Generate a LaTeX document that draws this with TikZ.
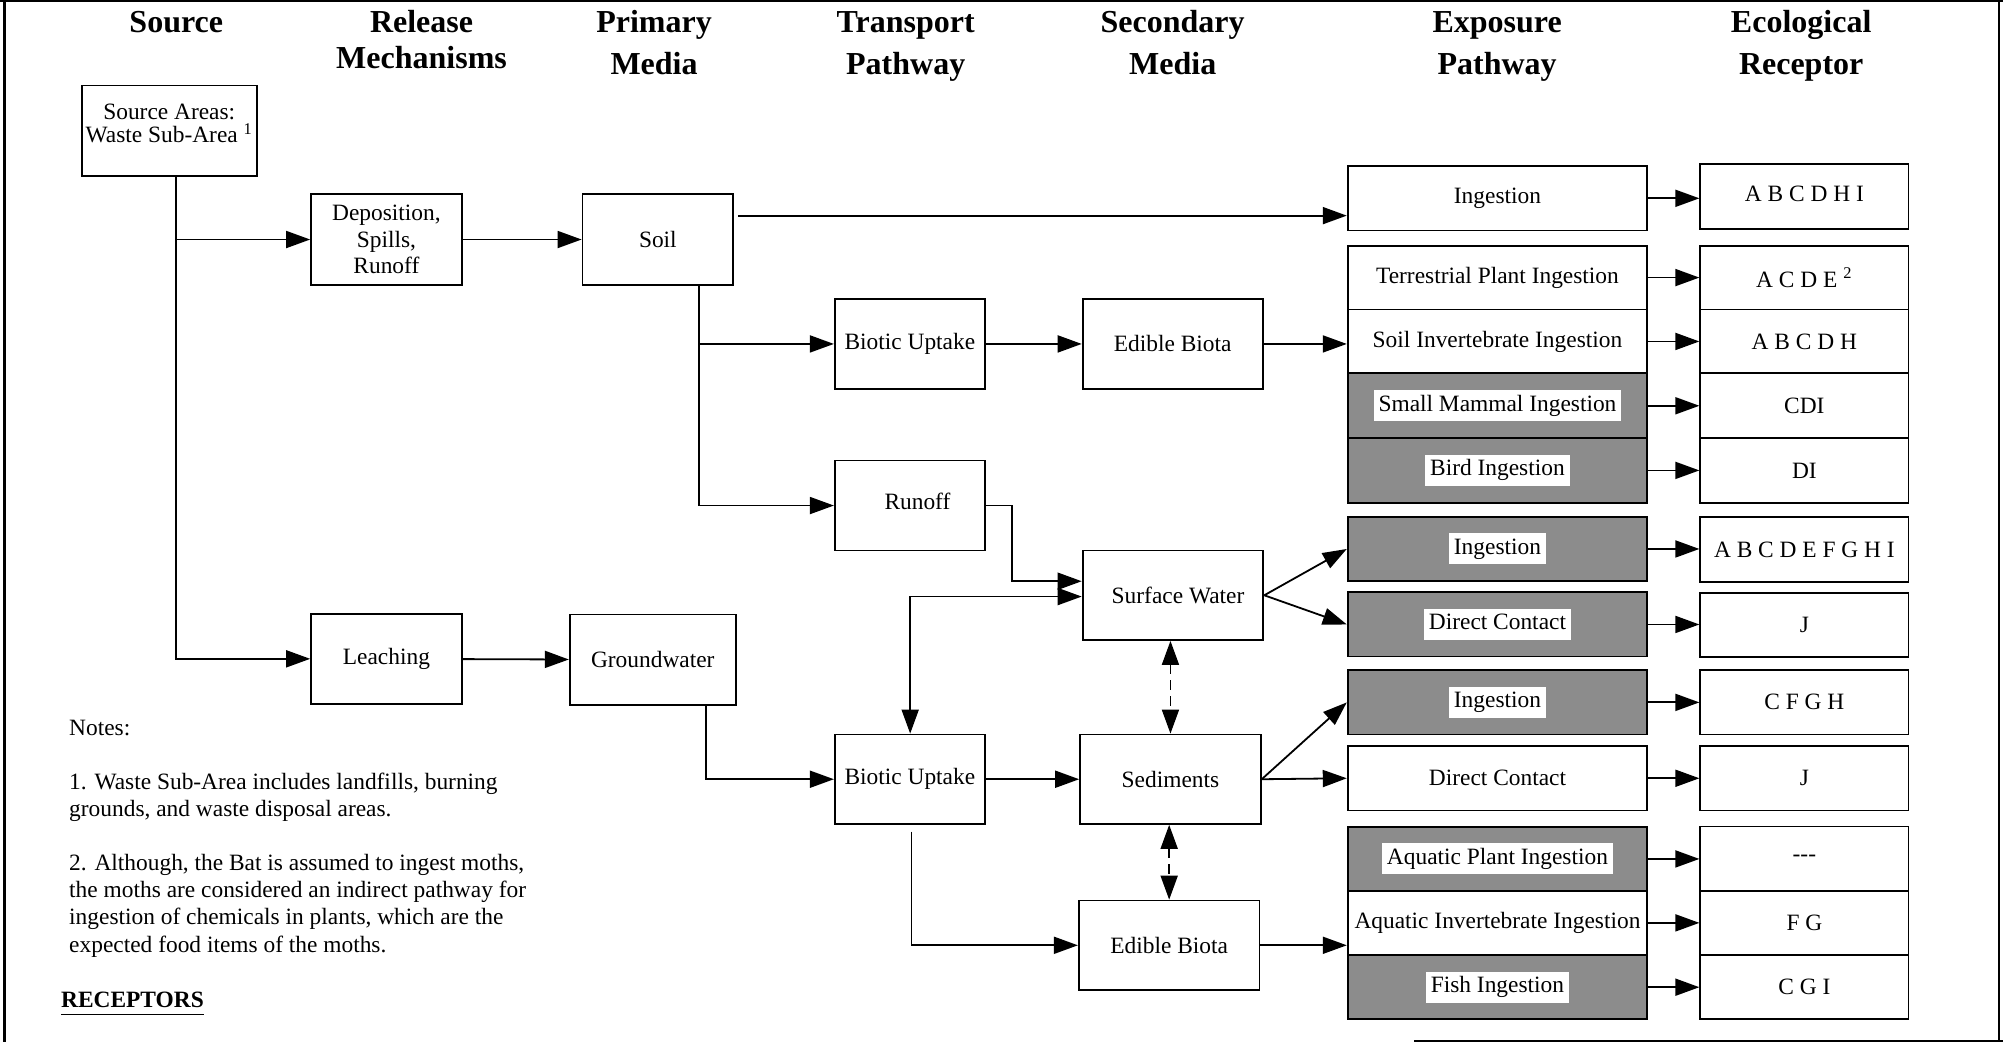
\documentclass[tikz,border=0pt]{standalone}
\usepackage{fontspec}
\setmainfont{Liberation Serif}
\usetikzlibrary{arrows.meta}

\newcommand\boxfont{\fontsize{11.7}{13.1}\selectfont}
\newcommand\hdrfont{\fontsize{16}{19}\selectfont\bfseries}
\newcommand\notefont{\fontsize{11.7}{13.54}\selectfont}
\newcommand\whitebg[1]{{\setlength\fboxsep{1.2pt}\colorbox{white}{\hspace{1.3pt}\strut #1\hspace{1.3pt}}}}
\newcommand\mybox[7][]{\node[box,#1,minimum width={(#5-#3)*0.6387pt},minimum height={(#6-#4)*0.6387pt}] (#2) at ({(#3+#5)/2},{(#4+#6)/2}) {#7};}

\begin{document}
\begin{tikzpicture}[x=0.6387pt, y=-0.6387pt, line width=0.9pt,
  box/.style={draw, inner sep=1pt, align=center, font=\boxfont},
  shaded/.style={fill=black!45},
  hdr/.style={font=\hdrfont, anchor=base, inner sep=0pt},
  arr/.style={-{Triangle[length=12pt,width=8.5pt]}},
  dbl/.style={{Triangle[length=12pt,width=8.5pt]}-{Triangle[length=12pt,width=8.5pt]}}]

\useasboundingbox (0,0) rectangle (1568,816);

% frame
\draw[line width=1.4pt] (3.5,0) -- (3.5,816);
\draw[line width=1.2pt] (0,1) -- (1568,1);
\draw[line width=1pt] (1565,0) -- (1565,816);
\draw[line width=1pt] (1107,815) -- (1568,815);

% headers
\node[hdr] (h1) at (138,25.3) {Source};
\node[hdr] (h2a) at (330,25.3) {Release};
\node[hdr] (h2b) at (330,53.5) {Mechanisms};
\node[hdr] (h3a) at (512,25.3) {Primary};
\node[hdr] (h3b) at (512,58) {Media};
\node[hdr] (h4a) at (709,25.3) {Transport};
\node[hdr] (h4b) at (709,58) {Pathway};
\node[hdr] (h5a) at (918,25.3) {Secondary};
\node[hdr] (h5b) at (918,58) {Media};
\node[hdr] (h6a) at (1172,25.3) {Exposure};
\node[hdr] (h6b) at (1172,58) {Pathway};
\node[hdr] (h7a) at (1410,25.3) {Ecological};
\node[hdr] (h7b) at (1410,58) {Receptor};

% boxes
\mybox[text depth=7.6pt]{src}{64}{67}{201}{138}{Source Areas:\\[-1.4pt]Waste Sub-Area \textsuperscript{1}}
\mybox{dep}{243.5}{152}{361.5}{223}{Deposition,\\Spills,\\Runoff}
\mybox{soil}{456}{152}{574}{223}{Soil}
\mybox{leach}{243.5}{480.5}{361.5}{551}{Leaching}
\mybox{gw}{446}{481}{576}{552}{Groundwater}
\mybox{bu1}{653.5}{234}{771}{304.5}{Biotic Uptake}
\mybox{eb1}{847.5}{234}{988.5}{304.5}{Edible Biota}
\mybox[text depth=4pt]{runoff}{653.5}{360.5}{771}{431}{\hspace{7.6pt}Runoff}
\mybox{sw}{847.5}{431}{989}{501}{\hspace{5pt}Surface Water}
\mybox{bu2}{653.5}{575}{771}{645}{Biotic Uptake}
\mybox{sed}{845.5}{575}{987}{645}{Sediments}
\mybox{eb2}{844.5}{705}{986}{775}{Edible Biota}

% exposure pathways
\mybox{e1}{1055}{130}{1289.5}{180.5}{Ingestion}
\mybox{e2}{1055}{192.3}{1289.5}{242.3}{Terrestrial Plant Ingestion}
\mybox{e3}{1055}{242.3}{1289.5}{292.3}{Soil Invertebrate Ingestion}
\mybox[shaded]{e4}{1055}{292.3}{1289.5}{343}{\whitebg{Small Mammal Ingestion}}
\mybox[shaded]{e5}{1055}{343}{1289.5}{393.5}{\whitebg{Bird Ingestion}}
\mybox[shaded]{e6}{1055}{404.5}{1289.5}{455}{\whitebg{Ingestion}}
\mybox[shaded]{e7}{1055}{463.7}{1289.5}{514}{\whitebg{Direct Contact}}
\mybox[shaded]{e8}{1055}{524.7}{1289.5}{575}{\whitebg{Ingestion}}
\mybox{e9}{1055}{584}{1289.5}{634.5}{Direct Contact}
\mybox[shaded]{e10}{1055}{647.5}{1289.5}{697.3}{\whitebg{Aquatic Plant Ingestion}}
\mybox{e11}{1055}{697.3}{1289.5}{747.6}{Aquatic Invertebrate Ingestion}
\mybox[shaded]{e12}{1055}{747.6}{1289.5}{798}{\whitebg{Fish Ingestion}}

% receptors
\mybox[text depth=3pt]{r1}{1331}{128.6}{1494}{179.5}{A B C D H I}
\mybox{r2}{1331}{192.3}{1494}{242.3}{A C D E \textsuperscript{2}}
\mybox{r3}{1331}{242.3}{1494}{292.3}{A B C D H}
\mybox{r4}{1331}{292.3}{1494}{343}{CDI}
\mybox{r5}{1331}{343}{1494}{393.5}{DI}
\mybox{r6}{1331}{405}{1494}{455.4}{A B C D E F G H I}
\mybox{r7}{1331}{464.5}{1494}{514.6}{J}
\mybox{r8}{1331}{524.5}{1494}{575}{C F G H}
\mybox{r9}{1331}{584}{1494}{634.5}{J}
\mybox{r10}{1331}{647}{1494}{697.3}{-{}-{}-}
\mybox{r11}{1331}{697.3}{1494}{747.6}{F G}
\mybox{r12}{1331}{747.6}{1494}{797.5}{C G I}

% connectors
\coordinate (sb0) at (138,138);
\draw[arr] (sb0) |- (dep.west);
\draw[arr] (sb0) |- (leach.west);
\draw[arr] (dep) -- (soil);
\draw[arr] (leach) -- (gw);

\coordinate (sI) at (0,168.8);
\draw[arr, shorten <=2pt] (soil.east |- sI) -- (e1.west |- sI);

\coordinate (sb) at (547,223);
\draw[arr] (sb) |- (bu1.west);
\draw[arr] (sb) |- (runoff.west);
\draw[arr] (bu1) -- (eb1);
\draw[arr] (eb1) -- (eb1 -| e3.west);

\coordinate (rk) at (792,455);
\draw[arr] (runoff.east) -| (rk) -- (rk -| sw.west);

\coordinate (bk) at (712.5,467);
\draw[dbl] (bk -| sw.west) -- (bk) -- (bk |- bu2.north);

\coordinate (gb) at (552.5,552);
\draw[arr] (gb) |- (bu2.west);
\draw[arr] (bu2) -- (sed);

\coordinate (bub) at (713.5,651);
\draw[arr] (bub) |- (eb2.west);

\draw[dbl, dash pattern=on 5pt off 3pt] (sw.south -| sed.north) -- (sed.north);
\draw[dbl, dash pattern=on 5pt off 3pt] (sed.south -| eb2.north) -- (eb2.north);

\draw[arr] (sw.east) -- (e6.west);
\draw[arr] (sw.east) -- (e7.west);
\draw[arr] (sed.east) -- (e8.west);
\draw[arr] (sed.east) -- (e9.west);
\draw[arr] (eb2) -- (eb2 -| e11.west);

\foreach \i in {1,...,12} \draw[arr] (e\i.east) -- (e\i.east -| r\i.west);

% notes
\node[font=\notefont, anchor=base west, inner sep=0pt] (notes) at (53.5,575.7) {\vtop{%
\hbox{Notes:}\hbox{}%
\hbox{1. Waste Sub-Area includes landfills, burning}%
\hbox{grounds, and waste disposal areas.}\hbox{}%
\hbox{2. Although, the Bat is assumed to ingest moths,}%
\hbox{the moths are considered an indirect pathway for}%
\hbox{ingestion of chemicals in plants, which are the}%
\hbox{expected food items of the moths.}}};
\node[font=\notefont, anchor=base west, inner sep=0pt] (rec) at (47.2,788.5) {\underline{\textbf{RECEPTORS}\rule[-2pt]{0pt}{2pt}}};

\end{tikzpicture}
\end{document}
